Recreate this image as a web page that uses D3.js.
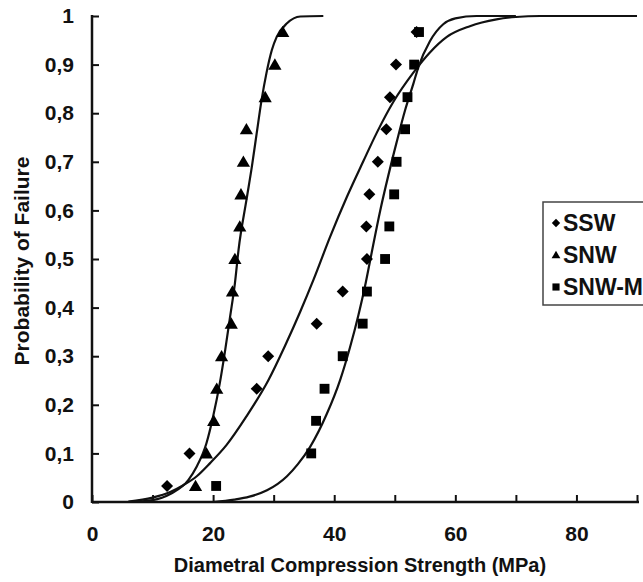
<!DOCTYPE html>
<html><head><meta charset="utf-8">
<script src="https://cdn.jsdelivr.net/npm/d3@7"></script>
<style>
html,body{margin:0;padding:0;background:#fff;}
text{font-family:"Liberation Sans",Arial,Helvetica,sans-serif;font-weight:bold;fill:#111;}
</style></head>
<body><svg id="c" width="643" height="582"></svg>
<script>
// ---- data ----
const probs15 = [0.033,0.1,0.167,0.233,0.3,0.367,0.433,0.5,0.567,0.633,0.7,0.767,0.833,0.9,0.967];
const sswP = [0.033,0.1,0.233,0.3,0.367,0.433,0.5,0.567,0.633,0.7,0.767,0.833,0.9,0.967];
const sswX = [12.4,16.1,27.2,29.1,37.1,41.4,45.4,45.3,45.8,47.2,48.6,49.2,50.2,53.6];
const snwX = [17.1,18.9,20.1,20.6,21.4,23.0,23.2,23.6,24.4,24.6,25.0,25.5,28.6,30.2,31.5];
const snwmX = [20.5,36.2,37.0,38.4,41.4,44.7,45.4,48.4,49.1,49.9,50.3,51.7,52.1,53.2,54.0];

// fitted curves
const snwCurveX = [6,10,13,15.9,17.3,18.9,20.0,21.1,22.0,22.8,23.6,24.2,25.5,26.4,27.2,28.0,28.8,29.7,30.5,32.2,34.4,38.2];
const snwCurveP = [0,0.004,0.017,0.045,0.073,0.121,0.176,0.244,0.313,0.381,0.45,0.519,0.621,0.69,0.759,0.827,0.882,0.93,0.957,0.985,0.999,1.0];
const sswCurveX = [6,10,13,15,17.3,19.5,22.2,25.5,29.1,31.9,34.4,36.6,39.3,42.1,44.8,47.0,49.8,53.1,55.8,58.6,62.4,66.8,70,74,90];
const sswCurveP = [0.001,0.009,0.021,0.034,0.053,0.08,0.117,0.176,0.25,0.322,0.392,0.458,0.545,0.628,0.701,0.759,0.824,0.884,0.925,0.957,0.979,0.993,0.998,1.0,1.0];
const snwmCurveX = [20,23.5,26,28.9,32.2,34,36,38.8,41,42.6,44,45.1,45.9,47.6,48.9,50.3,51.7,53.1,53.9,55.8,58,60,63.5,70];
const snwmCurveP = [0,0.005,0.011,0.024,0.053,0.078,0.113,0.182,0.252,0.318,0.385,0.445,0.495,0.6,0.67,0.74,0.806,0.862,0.895,0.948,0.983,0.995,1.0,1.0];

const xTicks = [0,10,20,30,40,50,60,70,80,90];
const xTickLabels = ["0","","20","","40","","60","","80",""];
const yTicks = [0,0.1,0.2,0.3,0.4,0.5,0.6,0.7,0.8,0.9,1];
const yTickLabels = ["0","0,1","0,2","0,3","0,4","0,5","0,6","0,7","0,8","0,9","1"];
const seriesNames = ["SSW","SNW","SNW-M"];
const xTitle = "Diametral Compression Strength (MPa)";
const yTitle = "Probability of Failure";

// ---- drawing ----
const svg = d3.select("#c");
const x = d3.scaleLinear().domain([0,90]).range([92,637]);
const y = d3.scaleLinear().domain([0,1]).range([502,16]);

function marker(type, s){
  if(type==="diamond") return `M0,${-s}L${s},0L0,${s}L${-s},0Z`;
  if(type==="triangle") return `M0,${-s}L${s*1.05},${s*0.8}L${-s*1.05},${s*0.8}Z`;
  return `M${-s*0.85},${-s*0.85}H${s*0.85}V${s*0.85}H${-s*0.85}Z`;
}

// curves
const line = d3.line().x(d=>x(d[0])).y(d=>y(d[1])).curve(d3.curveMonotoneX);
const curves = [
  d3.zip(snwCurveX, snwCurveP),
  d3.zip(sswCurveX, sswCurveP),
  d3.zip(snwmCurveX, snwmCurveP)
];
svg.append("g").selectAll("path").data(curves).join("path")
  .attr("d", line).attr("fill","none").attr("stroke","#111").attr("stroke-width",2.2);

// points
const series = [
  {type:"diamond", pts:d3.zip(sswX, sswP), s:6},
  {type:"triangle", pts:d3.zip(snwX, probs15), s:6.3},
  {type:"square", pts:d3.zip(snwmX, probs15), s:5.8}
];
series.forEach(sr=>{
  svg.append("g").selectAll("path").data(sr.pts).join("path")
    .attr("transform", d=>`translate(${x(d[0])},${y(d[1])})`)
    .attr("d", marker(sr.type, sr.s)).attr("fill","#000");
});

// axes
const xAxis = d3.axisBottom(x).tickValues(xTicks).tickSizeInner(-7).tickSizeOuter(0)
  .tickFormat((d,i)=>xTickLabels[i]).tickPadding(24);
const gx = svg.append("g").attr("transform","translate(0,502)").call(xAxis);
gx.select(".domain").attr("stroke","#111").attr("stroke-width",2.5).attr("d","M92,0H639");
gx.selectAll(".tick line").attr("stroke","#111").attr("stroke-width",2);
gx.selectAll(".tick text").attr("font-size",21).attr("fill","#111").attr("font-family","Liberation Sans, Arial, sans-serif").attr("font-weight","bold");

const yAxis = d3.axisLeft(y).tickValues(yTicks).tickSizeInner(-7).tickSizeOuter(0)
  .tickFormat((d,i)=>yTickLabels[i]).tickPadding(18);
const gy = svg.append("g").attr("transform","translate(92,0)").call(yAxis);
gy.select(".domain").attr("stroke","#111").attr("stroke-width",2.5).attr("d","M0,15V503");
gy.selectAll(".tick line").attr("stroke","#111").attr("stroke-width",2);
gy.selectAll(".tick text").attr("font-size",21).attr("fill","#111").attr("font-family","Liberation Sans, Arial, sans-serif").attr("font-weight","bold");

// titles
svg.append("text").attr("x",360).attr("y",572).attr("text-anchor","middle")
  .attr("font-size",20).text(xTitle);
svg.append("text").attr("transform","translate(29,261) rotate(-90)").attr("text-anchor","middle")
  .attr("font-size",21).text(yTitle);

// legend
const lg = svg.append("g");
lg.append("rect").attr("x",543).attr("y",202).attr("width",110).attr("height",103)
  .attr("fill","#fff").attr("stroke","#444").attr("stroke-width",1.5);
const legTypes = ["diamond","triangle","square"];
seriesNames.forEach((n,i)=>{
  const cy = 223 + i*32;
  lg.append("path").attr("transform",`translate(556,${cy})`).attr("d", marker(legTypes[i], 4.2)).attr("fill","#000");
  lg.append("text").attr("x",563).attr("y",cy+8).attr("font-size",23).text(n);
});
</script></body></html>
